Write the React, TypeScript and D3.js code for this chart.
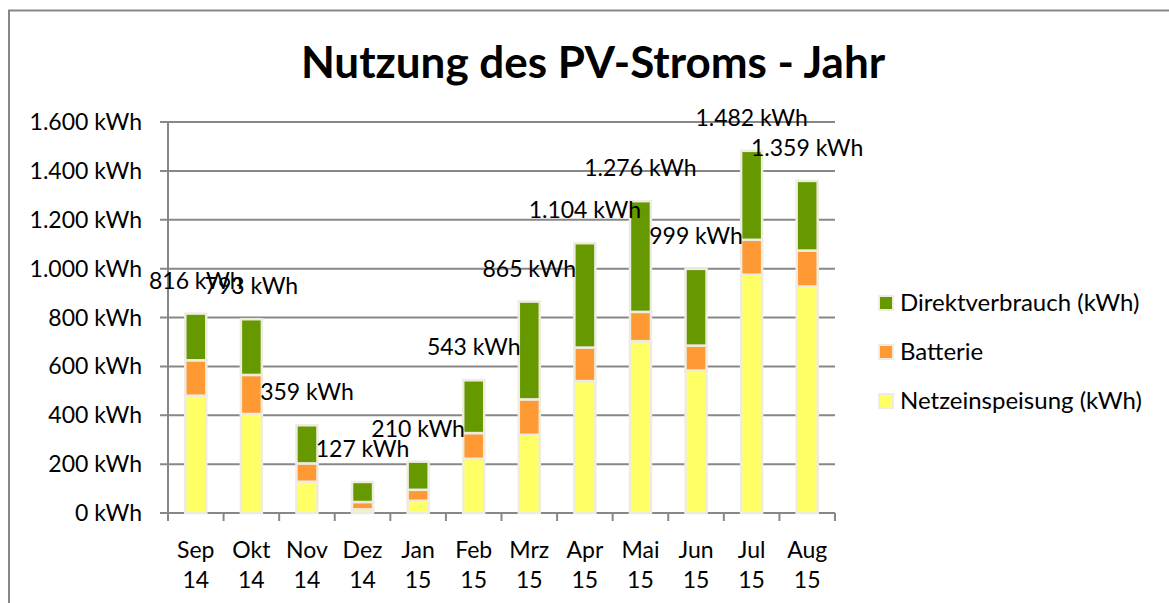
import React, { useRef, useEffect } from 'react';
import * as d3 from 'd3';

const months = ['Sep 14', 'Okt 14', 'Nov 14', 'Dez 14', 'Jan 15', 'Feb 15', 'Mrz 15', 'Apr 15', 'Mai 15', 'Jun 15', 'Jul 15', 'Aug 15'];
const netzeinspeisung = [480, 405, 128, 15, 50, 222, 320, 540, 703, 583, 975, 927];
const batterie = [145, 160, 75, 30, 45, 105, 145, 137, 120, 102, 143, 147];
const direktverbrauch = [191, 228, 156, 82, 115, 216, 400, 427, 453, 314, 364, 285];
const yTicks = [0, 200, 400, 600, 800, 1000, 1200, 1400, 1600];

const seriesNames = ['Netzeinspeisung (kWh)', 'Batterie', 'Direktverbrauch (kWh)'];
const seriesColors = ['#FFFF66', '#FF9933', '#669900'];

const FONT = 'Lato, "Open Sans", sans-serif';

const fmt = (v: number) => `${d3.format(',')(v).replace(/,/g, '.')} kWh`;

export default function App() {
  const ref = useRef<SVGSVGElement>(null);

  useEffect(() => {
    document.body.style.margin = '0';
    if (!ref.current) return;
    const svg = d3.select(ref.current);
    svg.selectAll('*').remove();

    const margin = { left: 168, right: 334, top: 122, bottom: 90 };
    const width = 1169, height = 603;

    const x = d3.scaleBand().domain(months).range([margin.left, width - margin.right]).paddingInner(0).paddingOuter(0);
    const y = d3.scaleLinear().domain([0, 1600]).range([height - margin.bottom, margin.top]);

    // chart frame
    svg.append('rect')
      .attr('x', 9).attr('y', 10.5)
      .attr('width', 1200).attr('height', 700)
      .attr('fill', '#fff').attr('stroke', '#878787').attr('stroke-width', 2);

    // title
    svg.append('text')
      .attr('x', 593).attr('y', 78)
      .attr('text-anchor', 'middle')
      .style('font-family', FONT)
      .style('font-weight', 'bold')
      .style('font-size', '44px')
      .text('Nutzung des PV-Stroms - Jahr');

    // grid
    svg.append('g')
      .selectAll('line')
      .data(yTicks)
      .join('line')
      .attr('x1', margin.left - 8)
      .attr('x2', width - margin.right)
      .attr('y1', d => y(d))
      .attr('y2', d => y(d))
      .attr('stroke', '#878787')
      .attr('stroke-width', 2);

    // y axis labels
    svg.append('g')
      .selectAll('text')
      .data(yTicks)
      .join('text')
      .attr('x', 142)
      .attr('y', d => y(d))
      .attr('dy', '0.35em')
      .attr('text-anchor', 'end')
      .style('font-family', FONT)
      .style('font-size', '23px')
      .text(d => fmt(d));

    // y axis line
    svg.append('line')
      .attr('x1', margin.left).attr('x2', margin.left)
      .attr('y1', y(1600)).attr('y2', y(0))
      .attr('stroke', '#878787').attr('stroke-width', 2);

    // x ticks
    const tickPos = months.map(m => x(m)!).concat([width - margin.right]);
    svg.append('g')
      .selectAll('line')
      .data(tickPos)
      .join('line')
      .attr('x1', d => d).attr('x2', d => d)
      .attr('y1', y(0)).attr('y2', y(0) + 8)
      .attr('stroke', '#878787').attr('stroke-width', 2);

    // x labels
    const xl = svg.append('g')
      .selectAll('text')
      .data(months)
      .join('text')
      .attr('text-anchor', 'middle')
      .style('font-family', FONT)
      .style('font-size', '23px');
    xl.append('tspan').attr('x', d => x(d)! + x.bandwidth() / 2).attr('y', 558).text(d => d.split(' ')[0]);
    xl.append('tspan').attr('x', d => x(d)! + x.bandwidth() / 2).attr('y', 588).text(d => d.split(' ')[1]);

    // stacked bars
    const rows = months.map((m, i) => ({ month: m, s0: netzeinspeisung[i], s1: batterie[i], s2: direktverbrauch[i] }));
    const stack = d3.stack<any>().keys(['s0', 's1', 's2'])(rows);
    const barW = 21;
    stack.forEach((layer, li) => {
      svg.append('g')
        .selectAll('rect')
        .data(layer)
        .join('rect')
        .attr('x', d => x(d.data.month)! + x.bandwidth() / 2 - barW / 2)
        .attr('width', barW)
        .attr('y', d => y(d[1]))
        .attr('height', d => Math.max(0, y(d[0]) - y(d[1])))
        .attr('fill', seriesColors[li])
        .attr('stroke', '#EEECE1')
        .attr('stroke-width', 2.5);
    });

    // total labels
    const totals = rows.map(r => r.s0 + r.s1 + r.s2);
    svg.append('g')
      .selectAll('text')
      .data(totals)
      .join('text')
      .attr('x', (d, i) => x(months[i])! + x.bandwidth() / 2)
      .attr('y', d => y(d) - 33)
      .attr('dy', '0.35em')
      .attr('text-anchor', 'middle')
      .style('font-family', FONT)
      .style('font-size', '23px')
      .text(d => fmt(d));

    // legend
    const legendOrder = [2, 1, 0];
    const lg = svg.append('g')
      .selectAll('g')
      .data(legendOrder)
      .join('g')
      .attr('transform', (d, i) => `translate(879, ${303 + i * 49})`);
    lg.append('rect')
      .attr('x', 0).attr('y', -7)
      .attr('width', 14).attr('height', 14)
      .attr('fill', d => seriesColors[d])
      .attr('stroke', '#EEECE1').attr('stroke-width', 2);
    lg.append('text')
      .attr('x', 21).attr('y', 0)
      .attr('dy', '0.35em')
      .style('font-family', FONT)
      .style('font-size', '24px')
      .text(d => seriesNames[d]);
  }, []);

  return <svg ref={ref} width={1169} height={603} style={{ display: 'block' }} />;
}
